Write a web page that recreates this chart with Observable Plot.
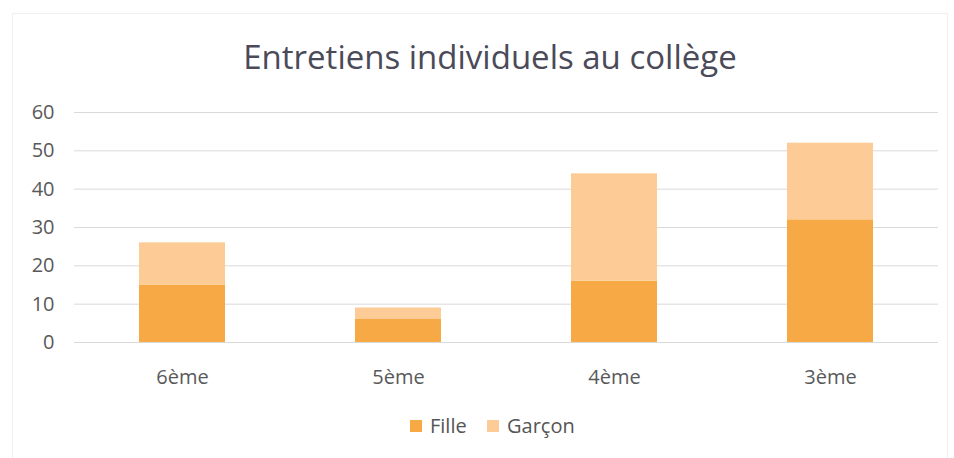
<!DOCTYPE html>
<html>
<head>
<meta charset="utf-8">
<script src="https://cdn.jsdelivr.net/npm/d3@7"></script>
<script src="https://cdn.jsdelivr.net/npm/@observablehq/plot@0.6"></script>
<style>
  html, body { margin: 0; padding: 0; background: #fff; }
  body { width: 954px; height: 458px; overflow: hidden; position: relative; font-family: "Open Sans", sans-serif; }
  #frame { position: absolute; left: 12px; top: 13px; width: 936px; height: 460px; border: 1px solid #efefef; box-sizing: border-box; }
  #title { position: absolute; left: 0; top: 0; width: 980px; height: 95px; text-align: center; font-size: 33px; line-height: 33px; color: #4a4a58; padding-top: 40px; box-sizing: border-box; }
  #chart { position: absolute; left: 0; top: 95px; }
  #legend { position: absolute; left: 0; top: 412px; width: 954px; font-size: 20px; color: #555; }
  .item { display: flex; align-items: center; position: absolute; top: 0; }
  .sw { width: 12px; height: 12px; display: inline-block; margin-right: 8px; }
</style>
</head>
<body>
<div id="frame"></div>
<div id="title">Entretiens individuels au collège</div>
<div id="chart"></div>
<div id="legend"></div>
<script>
const categories = ["6ème", "5ème", "4ème", "3ème"];
const series = ["Fille", "Garçon"];
const fille = [15, 6, 16, 32];
const garcon = [11, 3, 28, 20];
const colors = ["#f6a945", "#fdcc96"];
const yTicks = [0, 10, 20, 30, 40, 50, 60];

const data = [];
categories.forEach((c, i) => {
  data.push({cat: c, serie: series[0], value: fille[i]});
  data.push({cat: c, serie: series[1], value: garcon[i]});
});

const chart = Plot.plot({
  width: 954,
  height: 300,
  marginTop: 17,
  marginBottom: 53,
  marginLeft: 74,
  marginRight: 16,
  style: {fontFamily: "Open Sans, sans-serif", fontSize: "20px", color: "#595959", background: "transparent"},
  x: {domain: categories, paddingInner: 0.6, paddingOuter: 0.3, label: null},
  y: {domain: [0, 60], ticks: yTicks, label: null},
  color: {domain: series, range: colors},
  marks: [
    Plot.gridY(yTicks, {stroke: "#d9d9d9", strokeOpacity: 1}),
    Plot.axisY(yTicks, {tickSize: 0, tickPadding: 20, fontSize: 20, fill: "#595959", label: null}),
    Plot.axisX({tickSize: 0, tickPadding: 27, fontSize: 20, fill: "#595959", label: null}),
    Plot.barY(data, Plot.stackY({x: "cat", y: "value", fill: "serie", order: null})),
    Plot.ruleY([0], {stroke: "#d9d9d9"})
  ]
});
document.getElementById("chart").appendChild(chart);

const legend = document.getElementById("legend");
const positions = [410, 487];
series.forEach((s, i) => {
  const it = document.createElement("div");
  it.className = "item";
  it.style.left = positions[i] + "px";
  const sw = document.createElement("span");
  sw.className = "sw";
  sw.style.background = colors[i];
  it.appendChild(sw);
  const t = document.createElement("span");
  t.textContent = s;
  it.appendChild(t);
  legend.appendChild(it);
});
</script>
</body>
</html>
